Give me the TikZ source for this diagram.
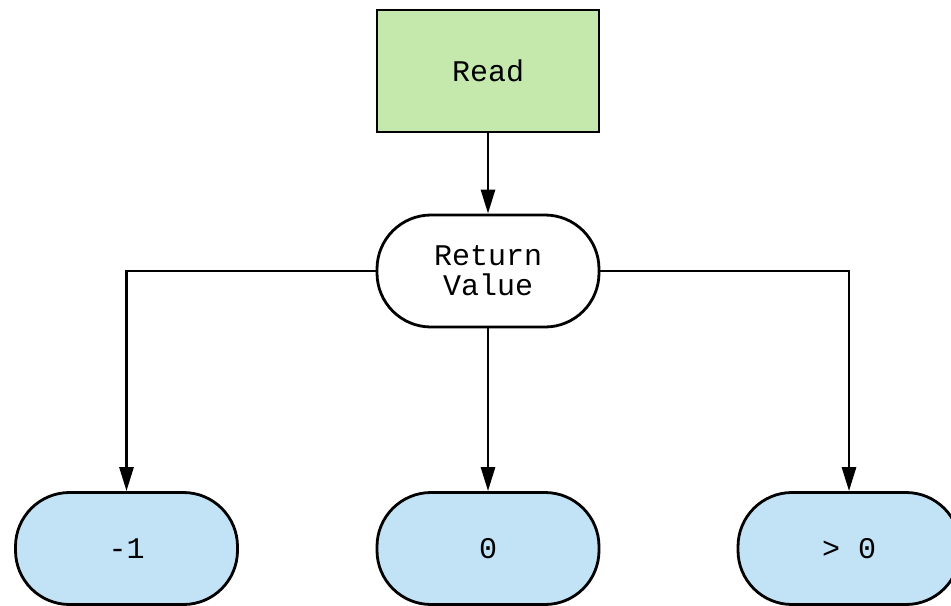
\documentclass[tikz,border=0pt]{standalone}
\usepackage{fontspec}
\setmonofont{Liberation Mono}
\usepackage{xcolor}
\usetikzlibrary{arrows.meta}
\definecolor{readgreen}{HTML}{C5E8AD}
\definecolor{valblue}{HTML}{C2E3F5}
\begin{document}
\begin{tikzpicture}[x=0.5pt,y=-0.5pt,line width=1.4pt,
	every node/.style={font=\ttfamily\fontsize{15}{15}\selectfont,align=center},
	box/.style={draw,fill=readgreen,minimum width=111pt,minimum height=61pt},
	pill/.style={draw,rounded corners=27pt,minimum width=111pt,minimum height=56pt},
	result/.style={pill,fill=valblue},
	arr/.style={-{Triangle[length=12pt,width=7pt]}}]
		\useasboundingbox (0,0) rectangle (951,605);
		\node[box] (read) at (488,71) {Read};
		\node[pill,fill=white] (ret) at (488,271) {Return\\Value};
		\node[result] (neg) at (126.5,548.5) {-1};
		\node[result] (zero) at (488,548.5) {0};
		\node[result] (pos) at (849,548.5) {> 0};
		\draw[arr] (read) -- (ret);
		\draw[arr] (ret.west) -| (neg.north);
		\draw[arr] (ret) -- (zero);
		\draw[arr] (ret.east) -| (pos.north);
\end{tikzpicture}
\end{document}
